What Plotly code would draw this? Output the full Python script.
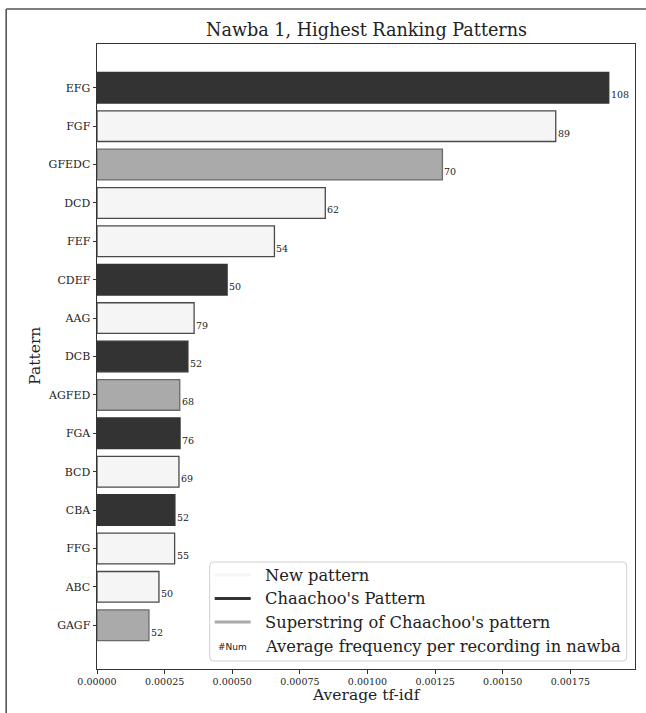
import plotly.graph_objects as go

# ---------------- data ----------------
patterns = ["EFG", "FGF", "GFEDC", "DCD", "FEF", "CDEF", "AAG", "DCB",
            "AGFED", "FGA", "BCD", "CBA", "FFG", "ABC", "GAGF"]
tfidf = [0.001892, 0.001696, 0.001277, 0.000844, 0.000656, 0.000481, 0.000359,
         0.000336, 0.000306, 0.000307, 0.000303, 0.000288, 0.000287, 0.000229, 0.000192]
avg_freq = [108, 89, 70, 62, 54, 50, 79, 52, 68, 76, 69, 52, 55, 50, 52]
kind = ["chaachoo", "new", "super", "new", "new", "chaachoo", "new", "chaachoo",
        "super", "chaachoo", "new", "chaachoo", "new", "new", "super"]
x_ticks = [0.0, 0.00025, 0.0005, 0.00075, 0.001, 0.00125, 0.0015, 0.00175]
x_tick_text = ["0.00000", "0.00025", "0.00050", "0.00075", "0.00100",
               "0.00125", "0.00150", "0.00175"]
legend_labels = ["New pattern", "Chaachoo's Pattern",
                 "Superstring of Chaachoo's pattern",
                 "Average frequency per recording in nawba"]
legend_kinds = ["new", "chaachoo", "super", None]

# ---------------- style ----------------
fill = {"new": "#f5f5f5", "chaachoo": "#333333", "super": "#aaaaaa"}
edge = {"new": "#4a4a4a", "chaachoo": "#333333", "super": "#6a6a6a"}
SERIF = "DejaVu Serif"

W, H = 646, 713
L, R, T, B = 97.3, 635.3, 44, 669


def px2x(px):
    return (px - L) / (R - L)


def px2y(py):
    return (B - py) / (B - T)


fig = go.Figure()
fig.add_trace(go.Bar(
    x=tfidf, y=patterns, orientation="h", width=0.8,
    marker=dict(color=[fill[k] for k in kind],
                line=dict(color=[edge[k] for k in kind], width=1.3)),
    showlegend=False, hoverinfo="x+y",
))

annotations = []
for p, v, n in zip(patterns, tfidf, avg_freq):
    annotations.append(dict(x=v, y=p, xref="x", yref="y", text=str(n),
                            showarrow=False, xanchor="left", yanchor="middle",
                            xshift=0, yshift=-7,
                            font=dict(family=SERIF, size=9.5, color="#222")))

# title and axis titles
annotations.append(dict(x=0.5, y=px2y(30), xref="paper", yref="paper",
                        text="Nawba 1, Highest Ranking Patterns", showarrow=False,
                        xanchor="center", yanchor="middle",
                        font=dict(family=SERIF, size=17.6, color="#222")))
annotations.append(dict(x=0.5, y=px2y(695), xref="paper", yref="paper",
                        text="Average tf-idf", showarrow=False,
                        xanchor="center", yanchor="middle",
                        font=dict(family=SERIF, size=15.5, color="#222")))
annotations.append(dict(x=px2x(35), y=px2y(356), xref="paper", yref="paper",
                        text="Pattern", showarrow=False, textangle=-90,
                        xanchor="center", yanchor="middle",
                        font=dict(family=SERIF, size=15.5, color="#222")))

shapes = []
# figure frame (partially visible)
shapes.append(dict(type="line", xref="paper", yref="paper",
                   x0=px2x(6.5), x1=px2x(700), y0=px2y(9), y1=px2y(9),
                   line=dict(color="#555", width=1.6)))
shapes.append(dict(type="line", xref="paper", yref="paper",
                   x0=px2x(6.5), x1=px2x(6.5), y0=px2y(9), y1=px2y(760),
                   line=dict(color="#555", width=1.6)))

# legend box (rounded)
bx0, bx1, by0, by1 = 210, 627, 562, 661
rad = 4
path = (f"M {px2x(bx0+rad)},{px2y(by0)} L {px2x(bx1-rad)},{px2y(by0)} "
        f"Q {px2x(bx1)},{px2y(by0)} {px2x(bx1)},{px2y(by0+rad)} "
        f"L {px2x(bx1)},{px2y(by1-rad)} Q {px2x(bx1)},{px2y(by1)} {px2x(bx1-rad)},{px2y(by1)} "
        f"L {px2x(bx0+rad)},{px2y(by1)} Q {px2x(bx0)},{px2y(by1)} {px2x(bx0)},{px2y(by1-rad)} "
        f"L {px2x(bx0)},{px2y(by0+rad)} Q {px2x(bx0)},{px2y(by0)} {px2x(bx0+rad)},{px2y(by0)} Z")
shapes.append(dict(type="path", xref="paper", yref="paper", path=path,
                   fillcolor="rgba(255,255,255,0.85)",
                   line=dict(color="#d0d0d0", width=1), layer="above"))

row_y = [575, 598.5, 622, 646]
for lab, k, ry in zip(legend_labels, legend_kinds, row_y):
    if k is not None:
        shapes.append(dict(type="line", xref="paper", yref="paper",
                           x0=px2x(215), x1=px2x(251), y0=px2y(ry), y1=px2y(ry),
                           line=dict(color=fill[k], width=3), layer="above"))
    else:
        annotations.append(dict(x=px2x(233), y=px2y(ry + 1), xref="paper", yref="paper",
                                text="#Num", showarrow=False, xanchor="center",
                                yanchor="middle",
                                font=dict(family="DejaVu Sans", size=9, color="#222")))
    annotations.append(dict(x=px2x(263), y=px2y(ry), xref="paper", yref="paper",
                            text=lab, showarrow=False, xanchor="left",
                            yanchor="middle",
                            font=dict(family=SERIF, size=16.3, color="#222")))

fig.update_layout(
    width=W, height=H,
    margin=dict(l=L, r=W - R, t=T, b=H - B, pad=0),
    plot_bgcolor="white", paper_bgcolor="white",
    annotations=annotations, shapes=shapes,
    showlegend=False,
    font=dict(family=SERIF, color="#222"),
    xaxis=dict(range=[0, 0.001989], tickvals=x_ticks, ticktext=x_tick_text,
               showgrid=False, zeroline=False, ticks="outside", ticklen=3.5,
               tickwidth=1, tickcolor="#333", showline=True, linecolor="#333",
               linewidth=1, mirror=True,
               tickfont=dict(family=SERIF, size=9.5, color="#222")),
    yaxis=dict(type="category", categoryorder="array", categoryarray=patterns,
               range=[len(patterns) - 1 + 1.14, -1.14],
               showgrid=False, zeroline=False, ticks="outside", ticklen=3.5,
               tickwidth=1, tickcolor="#333", showline=True, linecolor="#333",
               linewidth=1, mirror=True,
               tickfont=dict(family=SERIF, size=11, color="#222")),
)

fig.write_html("out.html", config={"displayModeBar": False},
               post_script="document.body.style.margin='0';document.body.style.overflow='hidden';")
